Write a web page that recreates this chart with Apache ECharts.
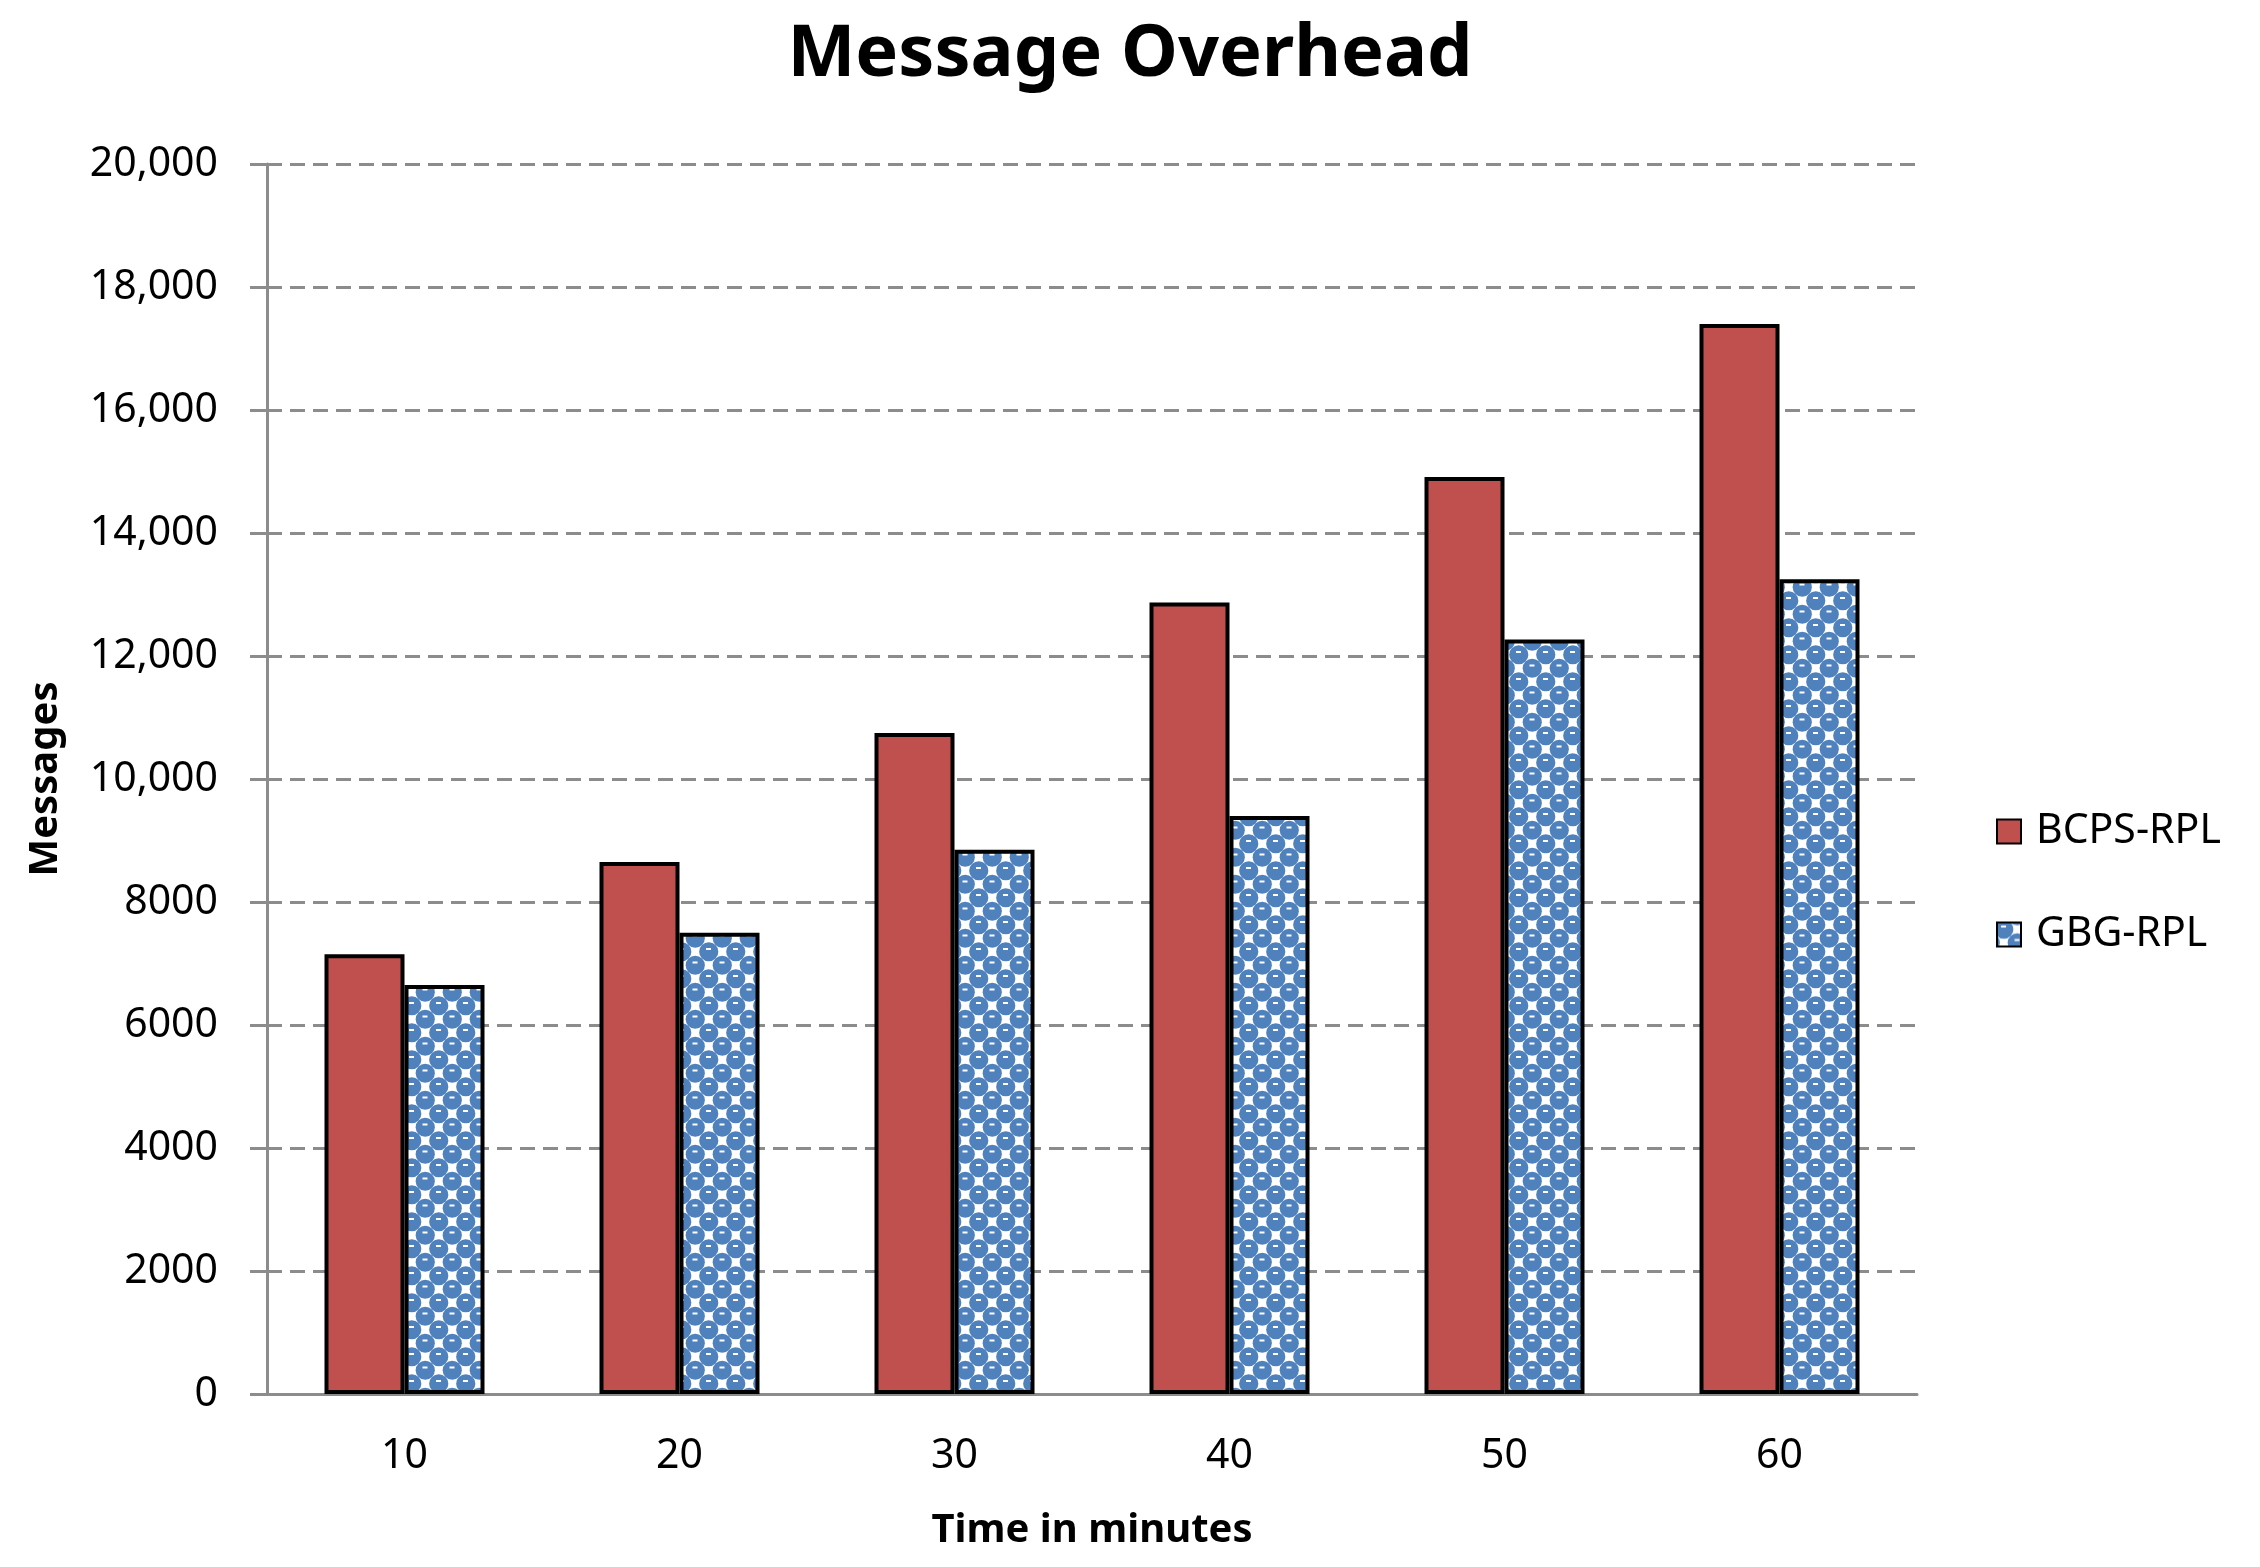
<!DOCTYPE html>
<html>
<head>
<meta charset="utf-8">
<script src="https://cdn.jsdelivr.net/npm/echarts@6/dist/echarts.min.js"></script>
<style>
  html, body { margin: 0; padding: 0; background: #fff; }
  #main { width: 2260px; height: 1567px; }
</style>
</head>
<body>
<div id="main"></div>
<script>
var chartDom = document.getElementById('main');
var myChart = echarts.init(chartDom);
var option;

// Data
const categories = ['10', '20', '30', '40', '50', '60'];
const bcpsRpl = [7150, 8650, 10750, 12870, 14910, 17400];
const gbgRpl = [6650, 7500, 8850, 9400, 12270, 13250];
const yTicks = [0, 2000, 4000, 6000, 8000, 10000, 12000, 14000, 16000, 18000, 20000];
const yTickLabels = ['0', '2000', '4000', '6000', '8000', '10,000', '12,000', '14,000', '16,000', '18,000', '20,000'];

const font = 'Noto Sans';

// checker / dot pattern for the blue bars
function makePattern() {
  var c = document.createElement('canvas');
  c.width = 27;
  c.height = 27;
  var ctx = c.getContext('2d');
  ctx.fillStyle = '#ffffff';
  ctx.fillRect(0, 0, 27, 27);
  ctx.fillStyle = '#4F81BD';
  // blue dots on alternating cells (wrapped so the tile repeats)
  var dots = [[6.75, 6.75], [20.25, 20.25], [-6.75, 20.25], [20.25, -6.75], [33.75, 6.75], [6.75, 33.75]];
  dots.forEach(function (d) {
    ctx.beginPath();
    ctx.arc(d[0], d[1], 9.6, 0, Math.PI * 2);
    ctx.fill();
  });
  // small white highlights on the dots
  ctx.fillStyle = '#ffffff';
  ctx.fillRect(4, 3, 5, 2);
  ctx.fillRect(17.5, 16.5, 5, 2);
  return c;
}

const gridColor = '#8c8c8c';

option = {
  backgroundColor: '#ffffff',
  animation: false,
  title: {
    text: 'Message Overhead',
    left: 'center',
    top: 14,
    textStyle: {
      fontFamily: font,
      fontWeight: 'bold',
      fontSize: 72,
      color: '#000'
    }
  },
  legend: {
    orient: 'vertical',
    left: 1996,
    top: 811,
    padding: 0,
    itemWidth: 24,
    itemHeight: 24,
    itemGap: 62,
    icon: 'rect',
    textStyle: {
      fontFamily: font,
      fontSize: 41,
      color: '#000',
      padding: [0, 0, 0, 10]
    },
    data: ['BCPS-RPL', 'GBG-RPL']
  },
  grid: {
    left: 267,
    right: 343,
    top: 164,
    bottom: 173
  },
  xAxis: {
    type: 'category',
    data: categories,
    name: 'Time in minutes',
    nameLocation: 'middle',
    nameGap: 117,
    nameTextStyle: {
      fontFamily: font,
      fontWeight: 'bold',
      fontSize: 40,
      color: '#000'
    },
    axisLine: { lineStyle: { color: gridColor, width: 3 } },
    axisTick: { show: false },
    axisLabel: {
      fontFamily: font,
      fontSize: 41,
      color: '#000',
      margin: 42
    }
  },
  yAxis: {
    type: 'value',
    min: 0,
    max: 20000,
    interval: 2000,
    name: 'Messages',
    nameLocation: 'middle',
    nameGap: 201,
    nameTextStyle: {
      fontFamily: font,
      fontWeight: 'bold',
      fontSize: 40,
      color: '#000'
    },
    axisLine: { show: true, lineStyle: { color: gridColor, width: 3 } },
    axisTick: { show: true, length: 17, lineStyle: { color: gridColor, width: 3 } },
    axisLabel: {
      fontFamily: font,
      fontSize: 41,
      color: '#000',
      margin: 49,
      formatter: function (v) {
        var i = yTicks.indexOf(v);
        return i >= 0 ? yTickLabels[i] : String(v);
      }
    },
    splitLine: {
      lineStyle: { color: gridColor, width: 3, type: [15, 8] }
    }
  },
  series: [
    {
      name: 'BCPS-RPL',
      type: 'bar',
      data: bcpsRpl,
      barWidth: 80,
      barGap: '0%',
      itemStyle: {
        color: '#C0504D',
        borderColor: '#000',
        borderWidth: 4
      }
    },
    {
      name: 'GBG-RPL',
      type: 'bar',
      data: gbgRpl,
      barWidth: 80,
      barGap: '0%',
      itemStyle: {
        color: { image: makePattern(), repeat: 'repeat' },
        borderColor: '#000',
        borderWidth: 4
      }
    }
  ]
};

option && myChart.setOption(option);
</script>
</body>
</html>
